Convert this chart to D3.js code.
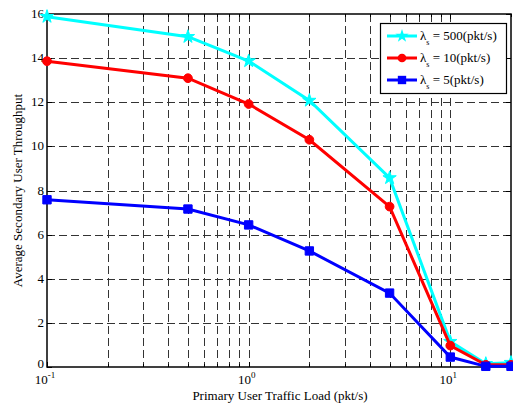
<!DOCTYPE html>
<html><head><meta charset="utf-8">
<script src="https://cdn.jsdelivr.net/npm/d3@7"></script>
<style>
body{margin:0;background:#fff;}
svg{display:block;font-family:"Liberation Serif","Times New Roman",serif;}
</style></head>
<body><svg id="c" width="513" height="405"></svg>
<script>
const xValues = [0.1, 0.5, 1, 2, 5, 10, 15, 20];
const series500 = [15.88, 14.97, 13.87, 12.08, 8.57, 1.15, 0.15, 0.2];
const series10 = [13.86, 13.09, 11.92, 10.3, 7.27, 0.97, 0.1, 0.1];
const series5 = [7.58, 7.16, 6.44, 5.26, 3.35, 0.45, 0.03, 0.03];
const seriesNames = ["500(pkt/s)", "10(pkt/s)", "5(pkt/s)"];
const seriesColors = ["#00ffff", "#ff0000", "#0000ff"];
const yTicks = [0, 2, 4, 6, 8, 10, 12, 14, 16];
const xMajorTicks = [0.1, 1, 10];
const xMinorTicks = [0.2,0.3,0.4,0.5,0.6,0.7,0.8,0.9,2,3,4,5,6,7,8,9,20];

const svg = d3.select("#c");
const L = 47, R = 511, T = 14, B = 367;
const x = d3.scaleLog().domain([0.1, 20]).range([L, R]);
const y = d3.scaleLinear().domain([0, 16]).range([B, T]);

const grid = svg.append("g").attr("stroke", "#333").attr("stroke-width", 1).attr("stroke-dasharray", "8,4");
xMajorTicks.concat(xMinorTicks).forEach(v => {
  if (v <= 0.1 || v >= 20) return;
  grid.append("line").attr("x1", Math.round(x(v))+0.5).attr("x2", Math.round(x(v))+0.5).attr("y1", T).attr("y2", B);
});
yTicks.forEach(v => {
  if (v === 0 || v === 16) return;
  grid.append("line").attr("x1", L).attr("x2", R).attr("y1", Math.round(y(v))+0.5).attr("y2", Math.round(y(v))+0.5);
});

// frame
svg.append("rect").attr("x", L).attr("y", T).attr("width", R-L).attr("height", B-T)
  .attr("fill", "none").attr("stroke", "#000").attr("stroke-width", 1.5);

// ticks (inside)
const tk = svg.append("g").attr("stroke", "#000").attr("stroke-width", 1);
yTicks.forEach(v => {
  const yy = Math.round(y(v))+0.5;
  tk.append("line").attr("x1", L).attr("x2", L+5).attr("y1", yy).attr("y2", yy);
  tk.append("line").attr("x1", R-5).attr("x2", R).attr("y1", yy).attr("y2", yy);
});
xMajorTicks.concat(xMinorTicks).forEach(v => {
  const xx = Math.round(x(v))+0.5;
  const len = xMajorTicks.includes(v) ? 5 : 3;
  tk.append("line").attr("x1", xx).attr("x2", xx).attr("y1", B).attr("y2", B-len);
  tk.append("line").attr("x1", xx).attr("x2", xx).attr("y1", T).attr("y2", T+len);
});

// y tick labels
yTicks.forEach(v => {
  svg.append("text").attr("x", L-3).attr("y", v === 0 ? y(v)+1 : y(v)+4).attr("text-anchor", "end")
    .attr("font-size", 13).text(v);
});
// x tick labels
const exps = ["-1", "0", "1"];
xMajorTicks.forEach((v, i) => {
  const t = svg.append("text").attr("x", x(v)-2).attr("y", B+17).attr("text-anchor", "middle").attr("font-size", 13);
  t.append("tspan").text("10");
  t.append("tspan").attr("dy", -6).attr("font-size", 9).text(exps[i]);
});

// axis labels
svg.append("text").attr("x", 280).attr("y", 400).attr("text-anchor", "middle").attr("font-size", 13)
  .text("Primary User Traffic Load (pkt/s)");
svg.append("text").attr("transform", `translate(22,${(T+B)/2}) rotate(-90)`).attr("text-anchor", "middle")
  .attr("font-size", 13).text("Average Secondary User Throughput");

const allSeries = [series500, series10, series5];
const line = d3.line().x(d => x(d[0])).y(d => y(d[1]));
const star = d3.symbol().type(d3.symbolStar).size(55);
const circ = d3.symbol().type(d3.symbolCircle).size(60);
const sq = d3.symbol().type(d3.symbolSquare).size(70);
const syms = [star, circ, sq];

const plot = svg.append("g");
allSeries.forEach((s, i) => {
  const pts = xValues.map((v, j) => [v, s[j]]);
  plot.append("path").attr("d", line(pts)).attr("fill", "none").attr("stroke", seriesColors[i]).attr("stroke-width", 3);
  pts.forEach(p => {
    plot.append("path").attr("d", syms[i]()).attr("transform", `translate(${x(p[0])},${y(p[1])})`)
      .attr("fill", seriesColors[i]).attr("stroke", seriesColors[i]).attr("stroke-width", 1);
  });
});

// legend
const lg = svg.append("g");
lg.append("rect").attr("x", 380.5).attr("y", 23.5).attr("width", 126).attr("height", 70)
  .attr("fill", "#fff").attr("stroke", "#000").attr("stroke-width", 1.2);
seriesNames.forEach((n, i) => {
  const yy = 36 + i * 22;
  lg.append("line").attr("x1", 387).attr("x2", 417).attr("y1", yy).attr("y2", yy)
    .attr("stroke", seriesColors[i]).attr("stroke-width", 3);
  lg.append("path").attr("d", syms[i]()).attr("transform", `translate(402,${yy})`).attr("fill", seriesColors[i]);
  const t = lg.append("text").attr("x", 420).attr("y", yy+4).attr("font-size", 13);
  t.append("tspan").text("λ");
  t.append("tspan").attr("dy", 5).attr("font-size", 8).text("s");
  t.append("tspan").attr("dy", -5).text(" = " + n);
});
</script></body></html>
